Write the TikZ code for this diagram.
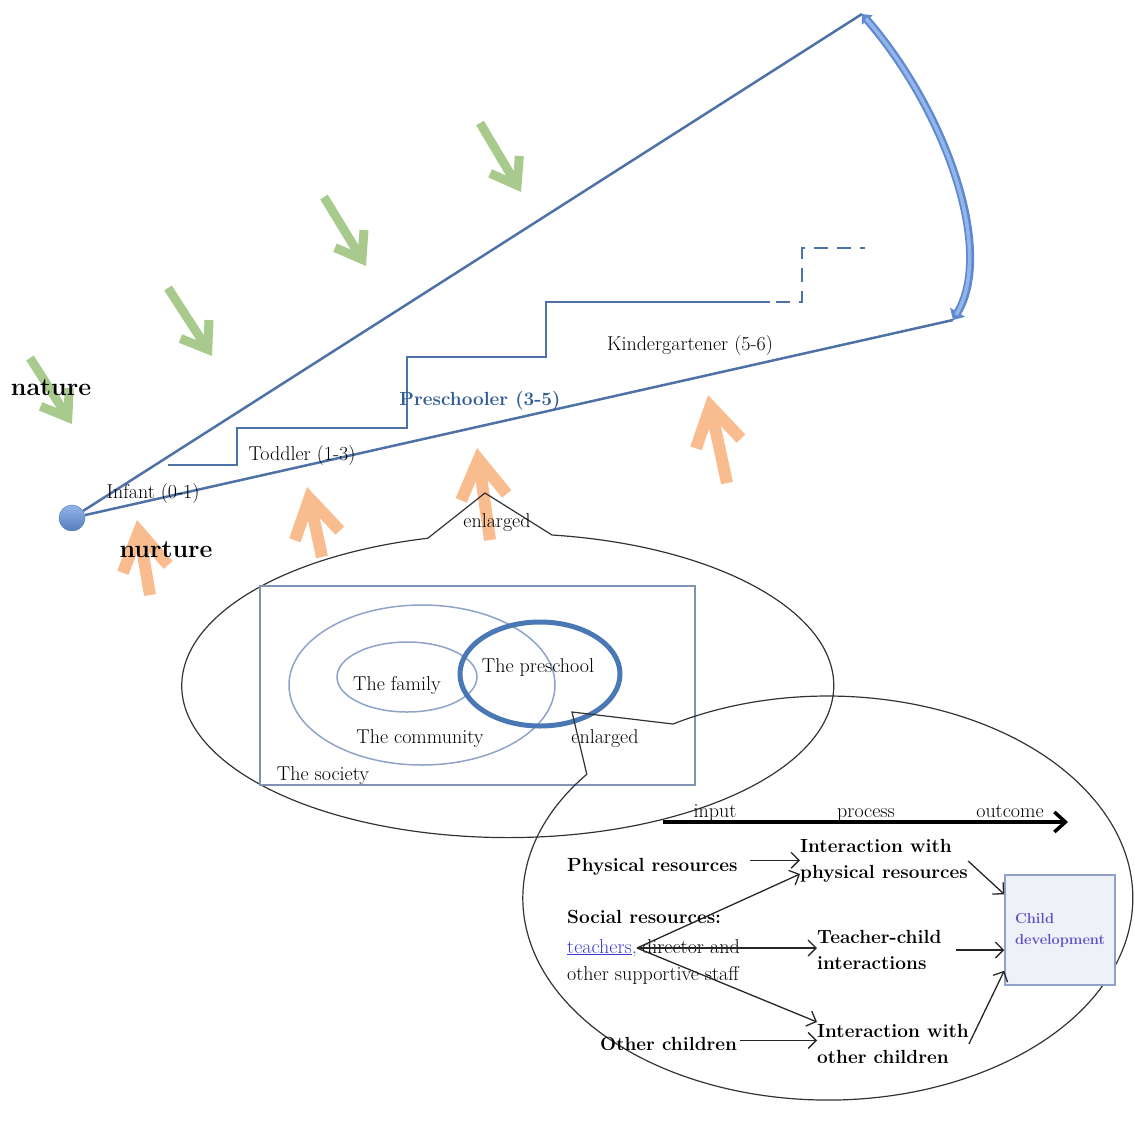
\documentclass[tikz,border=0pt]{standalone}
\usepackage{fontspec}
\usepackage{xcolor}
\usepackage{tikz}
\usetikzlibrary{arrows.meta}

\definecolor{coneblue}{HTML}{4E72A8}
\definecolor{bandblue}{HTML}{5F8AD0}
\definecolor{bandlight}{HTML}{93B5EC}
\definecolor{natgreen}{HTML}{A9CA8D}
\definecolor{nurorange}{HTML}{F8BC8F}
\definecolor{ringblue}{HTML}{8FA3C8}
\definecolor{schoolblue}{HTML}{4A78B4}
\definecolor{preblue}{HTML}{2F5B96}
\definecolor{linkblue}{HTML}{3B3BD0}
\definecolor{devpurple}{HTML}{5A4FC8}
\definecolor{boxfill}{HTML}{EEF1F7}

\tikzset{
  rtxt/.style={inner sep=0pt, align=left, font=\fontsize{20}{27}\selectfont},
  btxt/.style={inner sep=0pt, align=left, font=\bfseries\fontsize{19}{26}\selectfont},
  bigtxt/.style={inner sep=0pt, font=\bfseries\fontsize{25}{30}\selectfont},
  natarrow/.style={draw=natgreen, line width=9pt, -{Straight Barb[length=24pt,width=34pt]}},
  nurarrow/.style={draw=nurorange, line width=12pt, -{Straight Barb[length=38pt,width=46pt]}},
  cone/.style={draw=coneblue, line width=2.5pt},
  ring/.style={draw=ringblue, line width=1.5pt},
  callout/.style={draw=black!80, line width=1.2pt},
  flow/.style={draw=black!85, line width=1.3pt, -{Straight Barb[length=8pt,width=16pt]}},
}

\begin{document}
\begin{tikzpicture}[x=1pt,y=-1pt]
			\useasboundingbox (0,0) rectangle (1135,1141);
			% nature and nurture
			\draw[natarrow] (30,358) -- (72,424);
			\draw[natarrow] (168,288) -- (212,356);
			\draw[natarrow] (324,197) -- (366,266);
			\draw[natarrow] (480,123) -- (521,192);
			\draw[nurarrow] (150,595) -- (137,520);
			\draw[nurarrow] (322,557) -- (307,487);
			\draw[nurarrow] (490,540) -- (477,448);
			\draw[nurarrow] (727,483) -- (708,395);
			\node[bigtxt, anchor=base] (nature) at (51,395) {nature};
			\node[bigtxt, anchor=base] (nurture) at (166,557) {nurture};
			% the cone
			\node[circle, minimum size=26pt, inner sep=0pt, draw=coneblue, top color=bandlight, bottom color=bandblue!90!black] (dot) at (72,518) {};
			\coordinate (rimtop) at (862,14);
			\coordinate (rimbot) at (953,320);
			\draw[cone] (dot) -- (rimtop);
			\draw[cone] (dot) -- (rimbot);
			\draw[draw=bandblue, line width=8pt, {Triangle[length=8pt,width=14pt]}-{Triangle[length=9pt,width=17pt]}] (rimtop) .. controls (945,110) and (995,250) .. (rimbot);
			\draw[draw=bandlight, line width=3.5pt, shorten <=6pt, shorten >=6pt] (rimtop) .. controls (945,110) and (995,250) .. (rimbot);
			\draw[cone, line width=2.2pt] (168,465) -- (237,465) -- (237,428) -- (407,428) -- (407,357) -- (546,357) -- (546,302) -- (770,302);
			\draw[cone, line width=2.2pt, dash pattern=on 14pt off 9pt] (776,302) -- (802,302) -- (802,248) -- (865,248);
			\node[rtxt, anchor=base] (infant) at (153,498) {Infant (0-1)};
			\node[rtxt, anchor=base] (toddler) at (302,460) {Toddler (1-3)};
			\node[inner sep=0pt, anchor=base, text=preblue, font=\bfseries\fontsize{19}{24}\selectfont] (presch) at (480,405) {Preschooler (3-5)};
			\node[rtxt, anchor=base] (kinder) at (690,350) {Kindergartener (5-6)};
			% first enlargement
			\draw[callout] (485,493) -- (552,535) arc[start angle=-82.2, end angle=255.8, x radius=326, y radius=152] -- cycle;
			\node[rtxt, anchor=base] (enl1) at (497,527) {enlarged};
			\draw[draw=ringblue!90!black, line width=1.5pt] (260,586) rectangle (695,785);
			\draw[ring] (422,685) ellipse [x radius=133, y radius=80];
			\draw[ring] (407,677) ellipse [x radius=70, y radius=35];
			\draw[draw=schoolblue, line width=5pt] (540,674) ellipse [x radius=80, y radius=52];
			\node[rtxt, anchor=base] (family) at (397,690) {The family};
			\node[rtxt, anchor=base] (school) at (538,672) {The preschool};
			\node[rtxt, anchor=base] (commun) at (420,743) {The community};
			\node[rtxt, anchor=base] (society) at (323,780) {The society};
			\node[rtxt, anchor=base] (enl2) at (605,743) {enlarged};
			% second enlargement
			\draw[callout] (572,712) -- (673,724) arc[start angle=-120.5, end angle=217.8, x radius=305, y radius=202] -- cycle;
			\coordinate (ipoL) at (663,822);
			\coordinate (ipoR) at (1068,822);
			\draw[line width=3.5pt, -{Straight Barb[length=11pt,width=20pt]}] (ipoL) -- (ipoR);
			\node[rtxt, anchor=base] (inp) at (715,817) {input};
			\node[rtxt, anchor=base] (proc) at (866,817) {process};
			\node[rtxt, anchor=base] (outc) at (1010,817) {outcome};
			\node[btxt, anchor=base west] (phys) at (567,871) {Physical resources};
			\node[btxt, anchor=base west] (socl) at (567,923) {Social resources:};
			\node[rtxt, anchor=base west, text=linkblue] (teach) at (567,953) {\underline{teachers},};
			\node[rtxt, anchor=base west] (direc) at ([xshift=5pt]teach.base east) {director and};
			\node[rtxt, anchor=base west] (staff) at (567,980) {other supportive staff};
			\node[btxt, anchor=base west] (other) at (600,1050) {Other children};
			\node[btxt, anchor=west] (iphys) at (800,861) {Interaction with\\physical resources};
			\node[btxt, anchor=west] (tch) at (817,950) {Teacher-child\\interactions};
			\node[btxt, anchor=west] (iother) at (817,1044) {Interaction with\\other children};
			\node[draw=ringblue, line width=1.5pt, fill=boxfill, minimum width=110pt, minimum height=110pt, align=left, text=devpurple, font=\bfseries\fontsize{14.5}{21}\selectfont] (child) at (1060,930) {Child\\development};
			\draw[flow] ([xshift=12pt,yshift=6pt]phys.east) -- ([yshift=6pt]phys.east -| iphys.west);
			\draw[flow] (teach.east) -- ([yshift=-13pt]iphys.west);
			\draw[flow] (teach.east) -- (teach.east -| tch.west);
			\draw[flow] (teach.east) -- ([yshift=22pt]iother.west);
			\draw[flow] ([xshift=3pt,yshift=3pt]other.east) -- ([yshift=3pt]other.east -| iother.west);
			\draw[flow] (iphys.east) -- ([yshift=-20pt]child.north west);
			\draw[flow] ([xshift=14pt]tch.east) -- (tch.east -| child.west);
			\draw[flow] (iother.east) -- ([yshift=15pt]child.south west);
		\end{tikzpicture}
\end{document}
